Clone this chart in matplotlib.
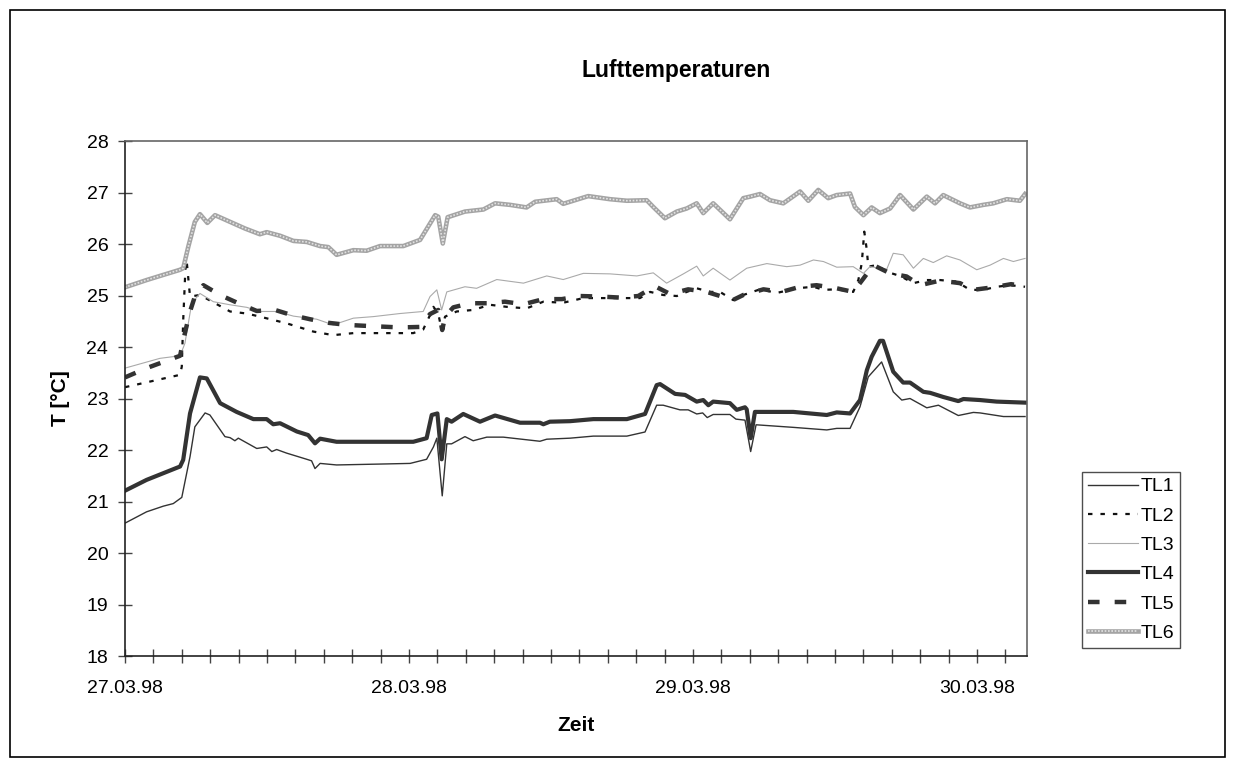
import numpy as np
import matplotlib
matplotlib.use("Agg")
import matplotlib.pyplot as plt
from matplotlib.patches import Rectangle
from matplotlib.legend_handler import HandlerTuple

plt.rcParams['font.family'] = ['Liberation Sans', 'DejaVu Sans']

# time in days since 27.03.98 00:00, temperatures in degC
t1 = [0.000, 0.076, 0.135, 0.170, 0.200, 0.229, 0.246, 0.282, 0.299, 0.352, 0.370, 0.387, 0.399,
      0.464, 0.499, 0.517, 0.534, 0.569, 0.640, 0.657, 0.669, 0.687, 0.745, 0.921, 1.004, 1.062,
      1.086, 1.098, 1.117, 1.133, 1.150, 1.197, 1.226, 1.274, 1.332, 1.461, 1.485, 1.567, 1.649,
      1.767, 1.831, 1.872, 1.895, 1.954, 1.983, 2.013, 2.034, 2.050, 2.071, 2.130, 2.151, 2.183,
      2.203, 2.222, 2.353, 2.471, 2.506, 2.553, 2.588, 2.617, 2.664, 2.705, 2.735, 2.764, 2.823,
      2.864, 2.934, 2.987, 3.011, 3.093, 3.169]
tl1 = [20.58, 20.80, 20.91, 20.96, 21.08, 21.87, 22.45, 22.72, 22.68, 22.26, 22.24, 22.18, 22.23,
       22.03, 22.06, 21.97, 22.01, 21.94, 21.82, 21.79, 21.64, 21.74, 21.71, 21.73, 21.74, 21.82,
       22.06, 22.23, 21.11, 22.12, 22.12, 22.26, 22.18, 22.25, 22.25, 22.17, 22.21, 22.23, 22.27,
       22.27, 22.35, 22.87, 22.87, 22.78, 22.78, 22.70, 22.72, 22.63, 22.69, 22.69, 22.60, 22.58,
       21.97, 22.49, 22.44, 22.39, 22.42, 22.42, 22.84, 23.42, 23.71, 23.13, 22.97, 23.00, 22.82,
       22.87, 22.67, 22.73, 22.72, 22.65, 22.65]

t2 = [0.000, 0.194, 0.200, 0.205, 0.215, 0.229, 0.264, 0.370, 0.429, 0.475, 0.569, 0.663, 0.733,
      0.804, 0.921, 1.015, 1.050, 1.074, 1.086, 1.103, 1.115, 1.127, 1.168, 1.226, 1.285, 1.344,
      1.414, 1.473, 1.543, 1.614, 1.813, 1.849, 1.895, 1.943, 1.978, 2.013, 2.060, 2.095, 2.142,
      2.177, 2.236, 2.295, 2.365, 2.424, 2.459, 2.506, 2.564, 2.582, 2.594, 2.603, 2.612, 2.617,
      2.647, 2.682, 2.729, 2.776, 2.823, 2.870, 2.928, 2.975, 3.022, 3.069, 3.116, 3.169]
tl2 = [23.22, 23.46, 23.62, 24.52, 25.80, 24.98, 25.01, 24.69, 24.65, 24.59, 24.46, 24.30, 24.23,
       24.27, 24.27, 24.27, 24.34, 24.62, 24.78, 24.65, 24.33, 24.59, 24.69, 24.72, 24.82, 24.78,
       24.75, 24.88, 24.86, 24.95, 24.95, 25.07, 25.01, 24.99, 25.07, 25.14, 25.07, 25.07, 24.91,
       25.01, 25.12, 25.05, 25.14, 25.17, 25.11, 25.12, 25.07, 25.30, 25.62, 26.24, 25.88, 25.56,
       25.59, 25.46, 25.38, 25.24, 25.30, 25.30, 25.27, 25.11, 25.11, 25.17, 25.20, 25.17]

t3 = [0.000, 0.123, 0.194, 0.211, 0.235, 0.264, 0.311, 0.370, 0.429, 0.475, 0.534, 0.593, 0.675,
      0.733, 0.804, 0.874, 0.968, 1.050, 1.074, 1.098, 1.115, 1.133, 1.197, 1.238, 1.309, 1.403,
      1.485, 1.543, 1.614, 1.708, 1.802, 1.860, 1.907, 1.966, 2.013, 2.036, 2.071, 2.130, 2.189,
      2.260, 2.330, 2.377, 2.424, 2.459, 2.506, 2.564, 2.600, 2.623, 2.682, 2.705, 2.740, 2.776,
      2.811, 2.846, 2.893, 2.940, 2.999, 3.046, 3.093, 3.128, 3.169]
tl3 = [23.59, 23.78, 23.83, 24.07, 24.85, 25.04, 24.88, 24.82, 24.77, 24.69, 24.69, 24.60, 24.54,
       24.43, 24.56, 24.59, 24.65, 24.69, 24.98, 25.11, 24.72, 25.07, 25.17, 25.14, 25.31, 25.24,
       25.38, 25.31, 25.43, 25.42, 25.38, 25.44, 25.24, 25.42, 25.57, 25.38, 25.53, 25.30, 25.53,
       25.62, 25.56, 25.59, 25.69, 25.66, 25.55, 25.56, 25.43, 25.56, 25.51, 25.82, 25.79, 25.53,
       25.72, 25.64, 25.77, 25.69, 25.50, 25.59, 25.72, 25.66, 25.72]

t4 = [0.000, 0.076, 0.194, 0.205, 0.229, 0.264, 0.288, 0.335, 0.393, 0.452, 0.499, 0.522, 0.546,
      0.605, 0.645, 0.669, 0.687, 0.745, 1.015, 1.062, 1.080, 1.100, 1.115, 1.133, 1.150, 1.191,
      1.250, 1.303, 1.391, 1.461, 1.473, 1.496, 1.567, 1.649, 1.767, 1.831, 1.872, 1.884, 1.937,
      1.972, 2.013, 2.036, 2.054, 2.071, 2.130, 2.154, 2.183, 2.189, 2.203, 2.218, 2.353, 2.471,
      2.506, 2.553, 2.588, 2.612, 2.629, 2.658, 2.669, 2.705, 2.740, 2.764, 2.811, 2.835, 2.881,
      2.934, 2.952, 3.011, 3.069, 3.169]
tl4 = [21.21, 21.42, 21.68, 21.81, 22.71, 23.41, 23.39, 22.91, 22.74, 22.60, 22.60, 22.50, 22.52,
       22.36, 22.29, 22.13, 22.22, 22.16, 22.16, 22.23, 22.68, 22.71, 21.82, 22.60, 22.55, 22.70,
       22.55, 22.67, 22.53, 22.53, 22.50, 22.55, 22.56, 22.60, 22.60, 22.70, 23.26, 23.28, 23.09,
       23.07, 22.94, 22.97, 22.87, 22.94, 22.91, 22.78, 22.83, 22.79, 22.23, 22.74, 22.74, 22.68,
       22.73, 22.71, 22.97, 23.55, 23.81, 24.12, 24.12, 23.52, 23.31, 23.31, 23.13, 23.11, 23.03,
       22.95, 22.99, 22.97, 22.94, 22.92]

t5 = [0.000, 0.076, 0.194, 0.211, 0.229, 0.246, 0.276, 0.335, 0.399, 0.464, 0.528, 0.587, 0.651,
      0.716, 0.781, 0.851, 0.968, 1.039, 1.074, 1.103, 1.117, 1.127, 1.156, 1.215, 1.274, 1.338,
      1.403, 1.473, 1.538, 1.602, 1.673, 1.743, 1.807, 1.866, 1.919, 1.983, 2.048, 2.119, 2.136,
      2.177, 2.248, 2.312, 2.377, 2.435, 2.506, 2.564, 2.600, 2.635, 2.694, 2.752, 2.799, 2.870,
      2.940, 2.987, 3.057, 3.120, 3.169]
tl5 = [23.41, 23.59, 23.83, 24.27, 24.69, 24.98, 25.20, 25.01, 24.85, 24.70, 24.72, 24.62, 24.54,
       24.47, 24.43, 24.41, 24.38, 24.39, 24.64, 24.72, 24.33, 24.59, 24.77, 24.85, 24.85, 24.88,
       24.83, 24.93, 24.93, 24.99, 24.98, 24.96, 24.99, 25.18, 25.03, 25.12, 25.07, 24.95, 24.90,
       25.01, 25.12, 25.07, 25.17, 25.20, 25.14, 25.07, 25.33, 25.59, 25.43, 25.37, 25.20, 25.29,
       25.24, 25.11, 25.16, 25.22, 25.18]

t6 = [0.000, 0.076, 0.123, 0.194, 0.205, 0.223, 0.246, 0.264, 0.290, 0.317, 0.370, 0.423, 0.475,
      0.499, 0.546, 0.593, 0.640, 0.687, 0.716, 0.745, 0.804, 0.851, 0.898, 0.980, 1.039, 1.092,
      1.103, 1.119, 1.136, 1.197, 1.262, 1.303, 1.356, 1.414, 1.444, 1.520, 1.543, 1.631, 1.708,
      1.767, 1.837, 1.860, 1.901, 1.943, 1.978, 2.013, 2.036, 2.071, 2.130, 2.177, 2.201, 2.236,
      2.271, 2.318, 2.377, 2.406, 2.441, 2.476, 2.506, 2.553, 2.570, 2.600, 2.629, 2.658, 2.694,
      2.729, 2.776, 2.823, 2.852, 2.881, 2.940, 2.975, 3.022, 3.057, 3.105, 3.151, 3.169]
tl6 = [25.16, 25.30, 25.38, 25.50, 25.53, 25.95, 26.43, 26.58, 26.41, 26.56, 26.43, 26.30, 26.19,
       26.23, 26.16, 26.06, 26.04, 25.96, 25.94, 25.79, 25.88, 25.87, 25.96, 25.96, 26.08, 26.56,
       26.53, 26.01, 26.52, 26.63, 26.67, 26.79, 26.76, 26.71, 26.82, 26.87, 26.78, 26.93, 26.87,
       26.84, 26.85, 26.72, 26.50, 26.63, 26.69, 26.79, 26.60, 26.79, 26.48, 26.89, 26.92, 26.97,
       26.85, 26.79, 27.02, 26.84, 27.05, 26.89, 26.95, 26.98, 26.72, 26.56, 26.71, 26.60, 26.69,
       26.95, 26.67, 26.92, 26.79, 26.95, 26.79, 26.71, 26.76, 26.79, 26.87, 26.84, 26.97]

day_labels = ['27.03.98', '28.03.98', '29.03.98', '30.03.98']
names = ['TL1', 'TL2', 'TL3', 'TL4', 'TL5', 'TL6']

fig = plt.figure(figsize=(12.35, 7.63), dpi=100)
ax = fig.add_axes([0.1012, 0.1402, 0.7304, 0.675])

dark = '#333333'
h1, = ax.plot(t1, tl1, color=dark, lw=1.0)
h2, = ax.plot(t2, tl2, color='#111111', lw=1.6, linestyle=(0, (2.0, 3.6)))
h3, = ax.plot(t3, tl3, color='#aaaaaa', lw=0.8)
h4, = ax.plot(t4, tl4, color=dark, lw=3.0)
h5, = ax.plot(t5, tl5, color=dark, lw=3.2, linestyle=(0, (2.6, 3.4)))
# TL6 is a textured grey band: solid grey base with a light dotted core
h6a, = ax.plot(t6, tl6, color='#a4a4a4', lw=3.3)
h6b, = ax.plot(t6, tl6, color='#e2e2e2', lw=1.2, linestyle=(0, (1, 1)))

ax.set_xlim(0, 3.176)
ax.set_ylim(18, 28)
ax.set_yticks(np.arange(18, 29, 1))
xt = np.arange(0, 3.15, 0.1)
ax.set_xticks(xt)
ax.set_xticklabels([day_labels[int(round(v))] if abs(v - round(v)) < 1e-6 else '' for v in xt])
ax.tick_params(axis='both', direction='inout', length=10, width=1.0, color='#444444',
               labelsize=14)
ax.tick_params(axis='x', pad=12)
ax.tick_params(axis='y', pad=7)

for s in ['left', 'bottom']:
    ax.spines[s].set_color('#222222')
    ax.spines[s].set_linewidth(1.2)
for s in ['top', 'right']:
    ax.spines[s].set_color('#666666')
    ax.spines[s].set_linewidth(1.2)

fig.text(676 / 1235, 1 - 70 / 763, 'Lufttemperaturen', fontsize=16.5, fontweight='bold',
         ha='center', va='center')
ax.set_xlabel('Zeit', fontsize=15, fontweight='bold', labelpad=14)
ax.set_ylabel('T [°C]', fontsize=15, fontweight='bold', labelpad=12)

leg = fig.legend([h1, h2, h3, h4, h5, (h6a, h6b)], names,
                 handler_map={tuple: HandlerTuple(ndivide=1, pad=0)},
                 loc='upper left', bbox_to_anchor=(1082 / 1235, 1 - 472 / 763),
                 fontsize=14, frameon=True, fancybox=False, edgecolor='#222222',
                 handlelength=2.6, handletextpad=0.1, labelspacing=0.6,
                 borderpad=0.3, borderaxespad=0)
leg.get_frame().set_linewidth(1.0)

fig.patches.append(Rectangle((10 / 1235, 6 / 763), 1215 / 1235, 747 / 763,
                             transform=fig.transFigure, fill=False,
                             edgecolor='black', linewidth=1.2))

fig.savefig('out.png', dpi=100)
